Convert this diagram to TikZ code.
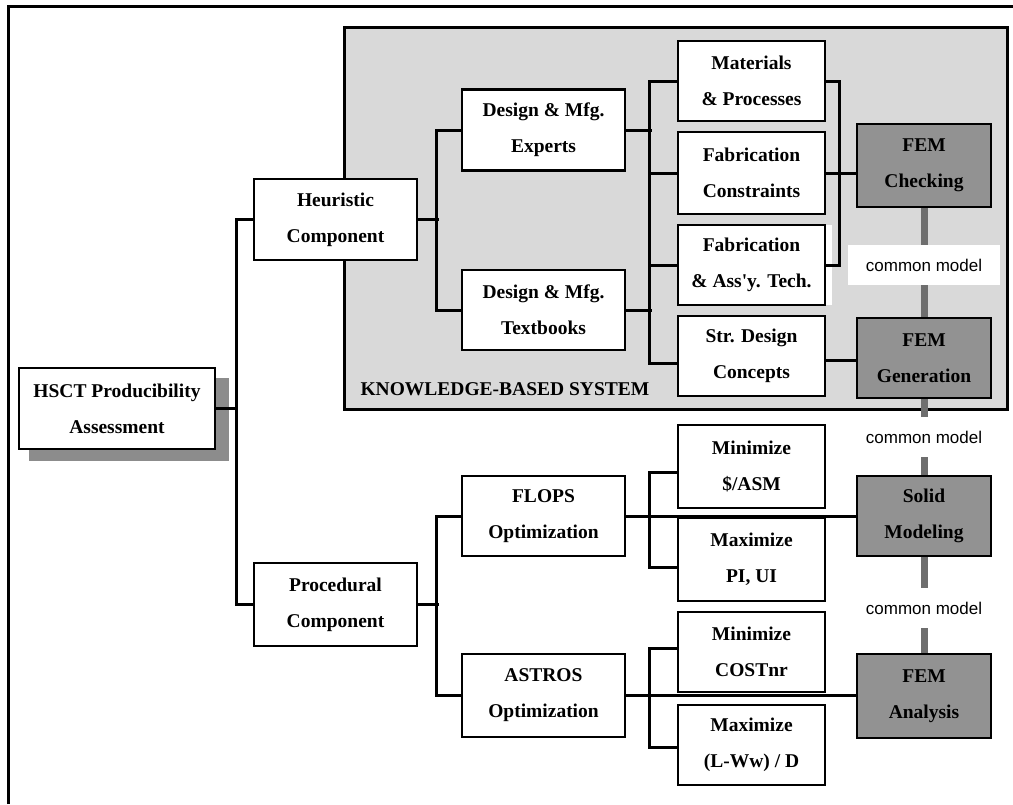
\documentclass[tikz,border=0pt]{standalone}
\usepackage{fontspec}
\setmainfont{Liberation Serif}[Ligatures=TeXOff]
\newfontfamily\labelsans{Liberation Sans}
\usepackage{tikz}
\usetikzlibrary{calc}
\definecolor{kbsgray}{RGB}{217,217,217}
\definecolor{femgray}{RGB}{146,146,146}
\definecolor{shadowgray}{RGB}{140,140,140}
\definecolor{linkgray}{RGB}{110,110,110}
\newcommand{\boxfont}{\fontsize{19.5}{36}\selectfont\bfseries}
\tikzset{
	whitebox/.style={draw, line width=2.5pt, fill=white, align=center, inner sep=0pt, font=\boxfont, minimum width=147pt, minimum height=81pt},
	femnode/.style={whitebox, fill=femgray, minimum width=134pt},
	link/.style={line width=3pt, line join=miter},
	commonlink/.style={line width=7pt, linkgray},
	cmlabel/.style={fill=white, inner sep=0pt, minimum width=152pt, minimum height=40pt, font=\labelsans\fontsize{17}{20}\selectfont}
}

\begin{document}
\begin{tikzpicture}[x=1pt,y=-1pt]
	\useasboundingbox (0,0) rectangle (1013,804);
	\draw[line width=3pt] (8,804) -- (8,6) -- (1013,6);

	\draw[line width=3pt, fill=kbsgray] (344,27) rectangle (1007,409);
	\node[anchor=west, font=\boxfont] (kbslabel) at (357,389) {KNOWLEDGE-BASED SYSTEM};
	\fill[white] (678,225) rectangle (832,305);
	\fill[shadowgray] (29,378) rectangle (229,461);

	\node[whitebox, minimum width=196pt] (hsct) at (117,408.5) {HSCT Producibility\\Assessment};
	\node[whitebox, minimum width=163pt] (heur) at (335.5,219.5) {Heuristic\\Component};
	\node[whitebox, minimum width=163pt, minimum height=83pt] (proc) at (335.5,604.5) {Procedural\\Component};

	\node[whitebox, minimum width=163pt] (experts) at (543.5,130) {Design \& Mfg.\\Experts};
	\node[whitebox, minimum width=163pt, minimum height=80pt] (texts) at (543.5,310) {Design \& Mfg.\\Textbooks};
	\node[whitebox, minimum width=163pt, minimum height=80pt] (flops) at (543.5,516) {FLOPS\\Optimization};
	\node[whitebox, minimum width=163pt, minimum height=83pt] (astros) at (543.5,695.5) {ASTROS\\Optimization};

	\node[whitebox, minimum height=80pt] (mat) at (751.5,81) {Materials\\\& Processes};
	\node[whitebox, minimum height=82pt] (fabc) at (751.5,173) {Fabrication\\Constraints};
	\node[whitebox, minimum height=80pt] (fabt) at (751.5,265) {Fabrication\\\& Ass'y. Tech.};
	\node[whitebox, minimum height=80pt] (strd) at (751.5,356) {Str. Design\\Concepts};
	\node[whitebox, minimum height=83pt] (minasm) at (751.5,466.5) {Minimize\\\$/ASM};
	\node[whitebox, minimum height=83pt] (maxpi) at (751.5,559.5) {Maximize\\PI, UI};
	\node[whitebox, minimum height=80pt] (mincost) at (751.5,652) {Minimize\\COSTnr};
	\node[whitebox, minimum height=80pt] (maxld) at (751.5,745) {Maximize\\(L-Ww) / D};

	\node[femnode, minimum height=83pt] (femc) at (924,165.5) {FEM\\Checking};
	\node[femnode, minimum height=80pt] (femg) at (924,358) {FEM\\Generation};
	\node[femnode, minimum height=80pt] (solid) at (924,516) {Solid\\Modeling};
	\node[femnode, minimum height=84pt] (fema) at (924,696) {FEM\\Analysis};

	\node[cmlabel] (cm1) at (924,265) {common model};
	\node[cmlabel] (cm2) at (924,437) {common model};
	\node[cmlabel] (cm3) at (924,608) {common model};

	\draw[commonlink] (femc) -- (cm1) -- (femg) -- (cm2) -- (solid) -- (cm3) -- (fema);

	\coordinate (j1) at ($(heur.west)+(-16,0)$);
	\draw[link] (heur.west) -- (j1) |- (proc.west);
	\draw[link] (hsct.east) -- (hsct.east -| j1);

	\draw[link] (heur.east) -- ++(21,0);
	\draw[link] (experts.west) -- ++(-24,0) |- (texts.west);
	\draw[link] (proc.east) -- ++(21,0);
	\draw[link] (flops.west) -- ++(-24,0) |- (astros.west);

	\draw[link] (experts.east) -- ++(26,0);
	\draw[link] (texts.east) -- ++(26,0);
	\draw[link] (mat.west) -- ++(-27,0) |- ([yshift=-7pt]strd.west);
	\draw[link] (fabc.west) -- ++(-27,0);
	\draw[link] (fabt.west) -- ++(-27,0);
	\draw[link] (mat.east) -- ++(13,0) |- (fabt.east);
	\draw[link] (fabc.east) -- (fabc.east -| femc.west);
	\draw[link] ([yshift=-4pt]strd.east) -- ([yshift=-4pt]strd.east -| femg.west);

	\draw[link] (flops.east) -- (flops.east -| solid.west);
	\draw[link] ([yshift=-6pt]minasm.west) -- ++(-27,0) |- ([yshift=-8pt]maxpi.west);
	\draw[link] (astros.east) -- (astros.east -| fema.west);
	\draw[link] ([yshift=4pt]mincost.west) -- ++(-27,0) |- ([yshift=-2pt]maxld.west);
\end{tikzpicture}
\end{document}
